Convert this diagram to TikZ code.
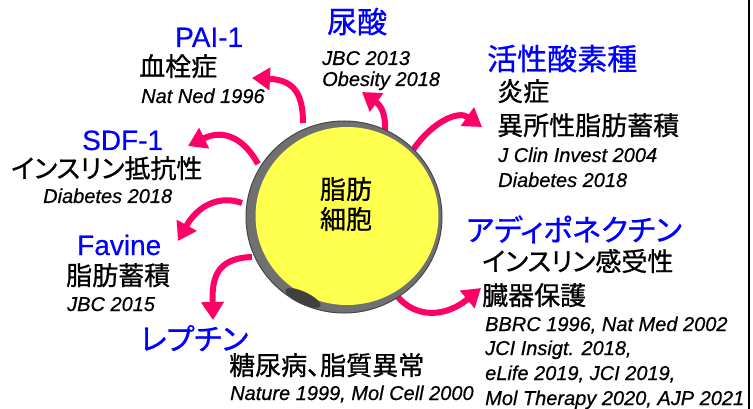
\documentclass[tikz,border=0pt]{standalone}
\usepackage{fontspec}
\setmainfont{Liberation Sans}
\newfontfamily\jp[RawFeature=+palt, FakeBold=0.8]{Noto Sans CJK JP}
\newfontfamily\reffont[FakeBold=0.6]{Liberation Sans Italic}
\newfontfamily\latblue[FakeBold=0.4]{Liberation Sans}
\usetikzlibrary{arrows.meta,shapes.geometric}
\definecolor{arrowpink}{RGB}{255,0,102}
\definecolor{cellyellow}{RGB}{255,255,77}
\definecolor{ringgray}{RGB}{112,112,112}
\definecolor{ringedge}{RGB}{70,70,70}
\definecolor{spotgray}{RGB}{64,64,64}
\definecolor{labelblue}{RGB}{0,0,255}
\begin{document}
\begin{tikzpicture}[x=1pt,y=-1pt,
  bluejp/.style={anchor=base west, inner sep=0pt, text=labelblue, font=\jp\fontsize{30}{30}\selectfont},
  bluelat/.style={anchor=base west, inner sep=0pt, text=labelblue, font=\latblue\fontsize{28}{28}\selectfont},
  blackjp/.style={anchor=base west, inner sep=0pt, font=\jp\fontsize{26}{26}\selectfont},
  refline/.style={anchor=base west, inner sep=0pt, font=\reffont\fontsize{20}{20}\selectfont},
  arr/.style={draw=arrowpink, line width=6pt, -{Triangle[length=18pt,width=22pt]}},
]
\useasboundingbox (0,0) rectangle (753,409);
\fill[white] (0,0) rectangle (753,409);
\draw[line width=2.5pt] (749,0) -- (749,409);

% arrows
\coordinate (a1s) at (303,123); \coordinate (a1e) at (252,78);
\coordinate (a2s) at (385,132); \coordinate (a2e) at (362,92);
\coordinate (a3s) at (413,150); \coordinate (a3e) at (482,127);
\coordinate (a4s) at (258,164); \coordinate (a4e) at (188,146);
\coordinate (a5s) at (242,203); \coordinate (a5e) at (178,241);
\coordinate (a6s) at (252,257); \coordinate (a6e) at (213,320);
\coordinate (a7s) at (397,296); \coordinate (a7e) at (481,288);
\draw[arr] (a1s) .. controls (303,95) and (295,80) .. (a1e);
\draw[arr] (a2s) .. controls (386,112) and (380,105) .. (a2e);
\draw[arr] (a3s) .. controls (432,122) and (458,110) .. (a3e);
\draw[arr] (a4s) .. controls (245,140) and (225,128) .. (a4e);
\draw[arr] (a5s) .. controls (220,195) and (198,205) .. (a5e);
\draw[arr] (a6s) .. controls (215,258) and (212,280) .. (a6e);
\draw[arr] (a7s) .. controls (415,318) and (445,318) .. (a7e);

% cell
\node[ellipse, minimum width=196pt, minimum height=192pt, inner sep=0pt, fill=ringgray, draw=ringedge, line width=1pt] (cell) at (344,217) {};
\node[ellipse, minimum width=183pt, minimum height=178pt, inner sep=0pt, fill=cellyellow] (cellcore) at (347,216) {};
\node[ellipse, minimum width=38pt, minimum height=12pt, inner sep=0pt, fill=spotgray, draw=ringedge, rotate=-25] (spot) at (303,298) {};
\node[align=center, inner sep=0pt, font=\jp\fontsize{26}{30}\selectfont] (celltext) at (346,204) {脂肪\\細胞};

% labels
\node[bluelat] (pai) at (175,47) {PAI-1};
\node[blackjp] (paid) at (139,76) {血栓症};
\node[refline] (pair) at (141,103) {Nat Ned 1996};

\node[bluejp] (uric) at (327,33) {尿酸};
\node[refline] (uricr1) at (322,65) {JBC 2013};
\node[refline] (uricr2) at (322,86) {Obesity 2018};

\node[bluejp] (ros) at (487,70) {活性酸素種};
\node[blackjp] (rosd1) at (497,101) {炎症};
\node[blackjp] (rosd2) at (497,135) {異所性脂肪蓄積};
\node[refline] (rosr1) at (498,162) {J Clin Invest 2004};
\node[refline] (rosr2) at (498,187) {Diabetes 2018};

\node[bluelat] (sdf) at (82,150) {SDF-1};
\node[blackjp] (sdfd) at (11,178) {インスリン抵抗性};
\node[refline] (sdfr) at (43,203) {Diabetes 2018};

\node[bluelat] (fav) at (77,255) {Favine};
\node[blackjp] (favd) at (66,285) {脂肪蓄積};
\node[refline] (favr) at (67,311) {JBC 2015};

\node[bluejp] (lep) at (140,350) {レプチン};
\node[blackjp] (lepd) at (229,375) {糖尿病、脂質異常};
\node[refline] (lepr) at (230,400) {Nature 1999, Mol Cell 2000};

\node[bluejp] (adi) at (466,241) {アディポネクチン};
\node[blackjp] (adid1) at (482,271) {インスリン感受性};
\node[blackjp] (adid2) at (482,305) {臓器保護};
\node[refline] (adir1) at (485,331) {BBRC 1996, Nat Med 2002};
\node[refline] (adir2) at (485,355) {JCI Insigt. 2018,};
\node[refline] (adir3) at (485,380) {eLife 2019, JCI 2019,};
\node[refline] (adir4) at (485,405) {Mol Therapy 2020, AJP 2021};
\end{tikzpicture}
\end{document}
